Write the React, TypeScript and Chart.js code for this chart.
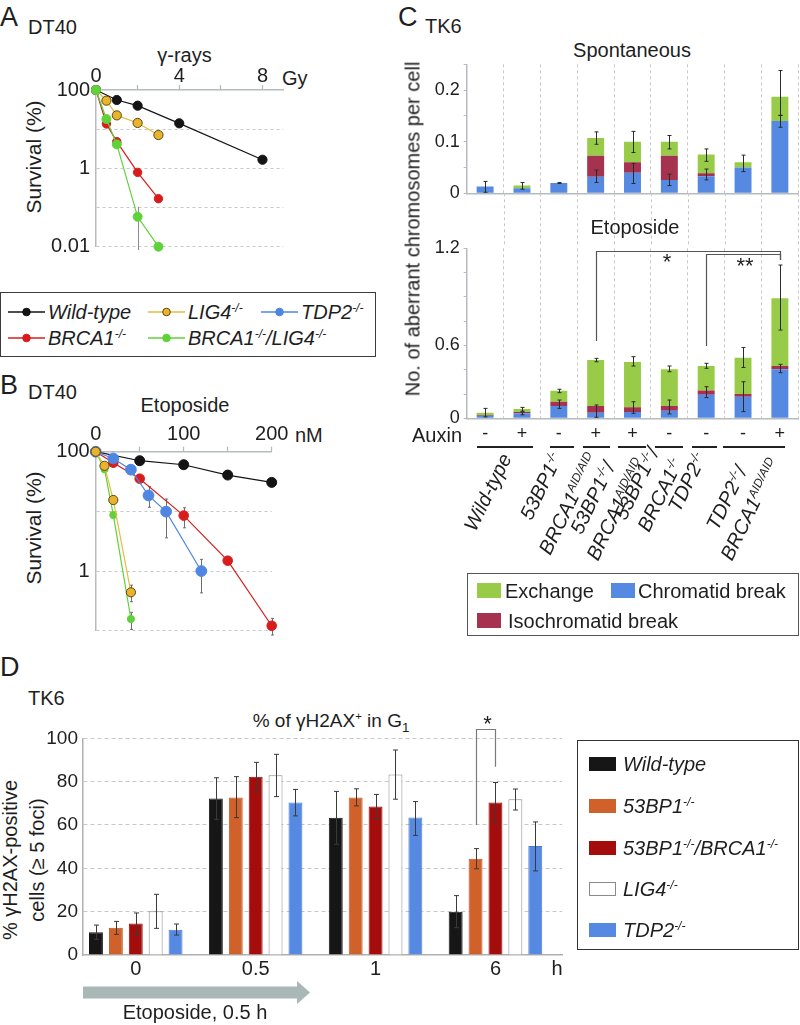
import React, { useEffect, useRef } from 'react';
import { Chart, registerables } from 'chart.js';

Chart.register(...registerables);

const FONT = '"Liberation Sans", Arial, Helvetica, sans-serif';
Chart.defaults.font.family = FONT;

const TXT = '#1e1e1e';
const AXIS = '#b6bcbe';
const GRID = '#c8c8c8';

const A_BLACK = '#141414';
const A_RED = '#d81c1c';
const A_GREEN = '#5fd23a';
const A_YEL = '#e8b42e';
const A_YEL_EDGE = '#5e4710';
const A_YEL_LINE = '#e4bb44';
const A_BLUE = '#4f86e2';
const C_GREEN = '#98cc48';
const C_BLUE = '#5689e2';
const C_MAROON = '#a5324f';

// ================= Panel A : DT40, gamma-rays =================
const aXTicks = [0, 2, 4, 6, 8];
const aXLabels = ['0', '', '4', '', '8'];
const aYTicks = [0.01, 0.1, 1, 10, 100];
const aYLabels = ['0.01', '', '1', '', '100'];
const aWildDose = [0, 1, 2, 4, 8];
const aWildSurv = [100, 55.6, 39.8, 14.1, 1.66];
const aLig4Dose = [0, 0.5, 1, 2, 3];
const aLig4Surv = [100, 53.4, 22.5, 14.4, 7.1];
const aBrcaDose = [0, 0.5, 1, 2, 3];
const aBrcaSurv = [100, 13.6, 4.8, 0.79, 0.168];
const aDblDose = [0, 0.5, 1, 2, 3];
const aDblSurv = [100, 18.2, 4.1, 0.058, 0.01];
const aDblErrLo = [null, null, null, 0.0082, null];
const aDblErrHi = [null, null, null, 0.105, null];

// ================= Panel B : DT40, etoposide =================
const bXTicks = [0, 50, 100, 150, 200];
const bXLabels = ['0', '', '100', '', '200'];
const bYTicks = [0.1, 1, 10, 100];
const bYLabels = ['', '1', '', '100'];
const bWildDose = [0, 50, 100, 150, 200];
const bWildSurv = [100, 70.6, 60.5, 40.6, 30.6];
const bLig4Dose = [0, 10, 20, 40];
const bLig4Surv = [100, 58, 15.5, 0.44];
const bLig4ErrLo = [null, null, null, 0.306];
const bLig4ErrHi = [null, null, null, 0.58];
const bDblDose = [0, 10, 20, 40];
const bDblSurv = [100, 51, 8.7, 0.157];
const bDblErrLo = [null, 45, null, 0.105];
const bDblErrHi = [null, 57, null, 0.203];
const bBrcaDose = [0, 20, 50, 100, 150, 200];
const bBrcaSurv = [100, 65.4, 35.3, 8.5, 1.49, 0.121];
const bBrcaErrLo = [null, null, null, 5.3, 1.3, 0.0845];
const bBrcaErrHi = [null, null, null, 11.5, 1.72, 0.161];
const bTdp2Dose = [0, 20, 40, 60, 80, 120];
const bTdp2Surv = [100, 77, 50, 18.5, 9.9, 1.0];
const bTdp2ErrLo = [null, null, null, 11.7, 3.6, 0.43];
const bTdp2ErrHi = [null, null, null, 25.9, 16.1, 1.57];

// ================= Panel C : TK6 aberrant chromosomes =================
const cCategories = ['WT -', 'WT +', '53BP1', 'BRCA1 AID', '53BP1/BRCA1 AID', '53BP1/BRCA1', 'TDP2', 'TDP2/BRCA1 AID -', 'TDP2/BRCA1 AID +'];
const cAuxin = ['-', '+', '-', '+', '+', '-', '-', '-', '+'];
// Spontaneous
const spChromatid = [0.013, 0.010, 0.020, 0.032, 0.040, 0.026, 0.033, 0.050, 0.140];
const spIso = [0, 0, 0, 0.041, 0.020, 0.047, 0.006, 0, 0];
const spExchange = [0, 0.005, 0, 0.034, 0.040, 0.027, 0.036, 0.010, 0.047];
const spTotLo = [0.002, 0.008, 0.019, 0.095, 0.079, 0.086, 0.062, 0.042, 0.151];
const spTotHi = [0.023, 0.021, 0.021, 0.119, 0.120, 0.112, 0.086, 0.074, 0.238];
const spLowLo = [null, null, null, 0.021, 0.019, 0.015, 0.026, null, 0.128];
const spLowHi = [null, null, null, 0.045, 0.058, 0.037, 0.047, null, 0.151];
const spYTicks = [0, 0.05, 0.1, 0.15, 0.2, 0.25];
const spYLabels = ['0', '', '0.1', '', '0.2', ''];
// Etoposide
const etChromatid = [0.018, 0.035, 0.087, 0.040, 0.045, 0.054, 0.167, 0.153, 0.346];
const etIso = [0.005, 0.010, 0.030, 0.047, 0.033, 0.033, 0.030, 0.019, 0.023];
const etExchange = [0.017, 0.021, 0.078, 0.324, 0.319, 0.259, 0.172, 0.256, 0.478];
const etTotLo = [0.010, 0.050, 0.181, 0.399, 0.369, 0.329, 0.353, 0.359, 0.623];
const etTotHi = [0.070, 0.077, 0.205, 0.423, 0.435, 0.369, 0.388, 0.500, 1.082];
const etLowLo = [null, 0.025, 0.070, 0.007, 0.035, 0.031, 0.146, 0.047, 0.322];
const etLowHi = [null, 0.045, 0.129, 0.094, 0.117, 0.129, 0.223, 0.258, 0.381];
const etYTicks = [0, 0.1714, 0.3429, 0.5143, 0.6857, 0.8571, 1.0286, 1.2];
const etYLabels = ['0', '', '', '0.6', '', '', '', '1.2'];
// significance brackets (category index / value)
const cSigFrom = [3, 6];
const cSigTo = [8, 8];
const cSigTop = [1.183, 1.16];
const cSigFromBase = [0.546, 0.51];
const cSigToBase = [1.117, 1.117];

// ================= Panel D : gammaH2AX =================
const dTimes = ['0', '0.5', '1', '6'];
const dNames = ['Wild-type', '53BP1^{-/-}', '53BP1^{-/-}/BRCA1^{-/-}', 'LIG4^{-/-}', 'TDP2^{-/-}'];
const dWild = [10.5, 72.2, 63.3, 20.0];
const dWildLo = [7.2, 62.6, 51.1, 12.6];
const dWildHi = [13.8, 81.8, 75.5, 27.4];
const d53 = [12.6, 72.7, 72.7, 44.4];
const d53Lo = [9.5, 63.4, 68.8, 39.8];
const d53Hi = [15.5, 82.3, 76.7, 49.1];
const d53Brca = [14.5, 82.3, 68.5, 70.4];
const d53BrcaLo = [9.1, 75.3, 62.7, 61.1];
const d53BrcaHi = [19.4, 88.9, 74.1, 79.6];
const dLig4 = [20.2, 83.0, 83.3, 71.9];
const dLig4Lo = [12.3, 73.1, 71.9, 66.9];
const dLig4Hi = [28.0, 92.6, 94.6, 76.6];
const dTdp2 = [11.7, 70.4, 63.4, 50.3];
const dTdp2Lo = [9.2, 64.2, 55.2, 38.8];
const dTdp2Hi = [14.3, 76.4, 70.8, 61.4];
const dFill = ['#161616', '#d1612a', '#a50d0d', '#ffffff', '#5689e2'];
const dEdge = ['#161616', '#b9541f', '#8e0b0b', '#8a8a8a', '#4c7dd4'];
const dSigGroup = 3;
const dSigFrom = 1;
const dSigTo = 2;
const dSigTop = 104.3;
const dSigFromBase = 60;
const dSigToBase = 86.9;

// ---------------------------------------------------------------
const baseOptions = (pad: any) => ({
  animation: false,
  responsive: false,
  maintainAspectRatio: false,
  devicePixelRatio: 1,
  events: [],
  layout: { padding: pad, autoPadding: false },
  plugins: { legend: { display: false }, tooltip: { enabled: false }, title: { display: false } },
});

const lineSet = (xs: number[], ys: number[], color: string, r: number, fill = color, edge = color, lc = color) => ({
  data: xs.map((x, i) => ({ x, y: ys[i] })),
  borderColor: lc,
  borderWidth: 1.2,
  pointRadius: r,
  pointHoverRadius: r,
  pointBackgroundColor: fill,
  pointBorderColor: edge,
  pointBorderWidth: 1,
  tension: 0,
  fill: false,
  clip: false,
});

const lineErrors = (sets: any[], color: string, cap: number) => ({
  id: 'lineErrors',
  beforeDatasetsDraw(chart: any) {
    const { ctx } = chart;
    const xs = chart.scales.x;
    const ys = chart.scales.y;
    ctx.save();
    ctx.strokeStyle = color;
    ctx.lineWidth = 1;
    sets.forEach((s: any) =>
      s.xs.forEach((xv: number, i: number) => {
        const lo = s.lo[i];
        const hi = s.hi[i];
        if (lo == null || hi == null) return;
        const px = Math.round(xs.getPixelForValue(xv)) + 0.5;
        const y1 = ys.getPixelForValue(lo);
        const y2 = ys.getPixelForValue(hi);
        ctx.beginPath();
        ctx.moveTo(px, y1);
        ctx.lineTo(px, y2);
        if (cap > 0) {
          ctx.moveTo(px - cap, y1);
          ctx.lineTo(px + cap, y1);
          ctx.moveTo(px - cap, y2);
          ctx.lineTo(px + cap, y2);
        }
        ctx.stroke();
      })
    );
    ctx.restore();
  },
});

function survivalConfig(p: any) {
  return {
    type: 'line',
    data: { datasets: p.datasets },
    options: {
      ...baseOptions(p.pad),
      scales: {
        x: {
          type: 'linear',
          position: 'top',
          min: p.x.min,
          max: p.x.max,
          afterFit: (s: any) => { s.height = p.x.height; },
          afterBuildTicks: (s: any) => { s.ticks = p.x.ticks.map((v: number) => ({ value: v })); },
          ticks: { callback: (_v: any, i: number) => p.x.labels[i], font: { size: 20 }, color: TXT, padding: p.x.labelPad, maxRotation: 0, autoSkip: false },
          grid: { drawOnChartArea: false, drawTicks: true, tickLength: 5, tickColor: AXIS, tickWidth: 1.3, color: AXIS },
          border: { color: AXIS, width: 1.5 },
        },
        y: {
          type: 'logarithmic',
          min: p.y.min,
          max: p.y.max,
          afterFit: (s: any) => { s.width = p.y.width; },
          afterBuildTicks: (s: any) => { s.ticks = p.y.ticks.map((v: number) => ({ value: v })); },
          ticks: { callback: (_v: any, i: number) => p.y.labels[i], font: { size: 20 }, color: TXT, padding: 6, autoSkip: false },
          grid: { drawTicks: false, lineWidth: 1, color: (c: any) => (c.tick && c.tick.value >= p.y.max ? 'rgba(0,0,0,0)' : GRID) },
          border: { color: AXIS, width: 1.5, dash: [3, 3] },
        },
      },
    },
    plugins: [lineErrors(p.errs, p.errColor, p.cap)],
  };
}

const makeA = () =>
  survivalConfig({
    datasets: [
      lineSet(aDblDose, aDblSurv, A_GREEN, 4.5),
      lineSet(aBrcaDose, aBrcaSurv, A_RED, 4.2),
      lineSet(aLig4Dose, aLig4Surv, A_YEL, 4.6, A_YEL, A_YEL_EDGE, A_YEL_LINE),
      lineSet(aWildDose, aWildSurv, A_BLACK, 4.6),
    ],
    x: { min: 0, max: 9, ticks: aXTicks, labels: aXLabels, height: 50, labelPad: -3 },
    y: { min: 0.01, max: 100, ticks: aYTicks, labels: aYLabels, width: 96 },
    pad: { left: 0, top: 0, right: 46.7, bottom: 23.3 },
    errs: [{ xs: aDblDose, lo: aDblErrLo, hi: aDblErrHi }],
    errColor: '#8d8d8d',
    cap: 0,
  });

const makeB = () =>
  survivalConfig({
    datasets: [
      lineSet(bLig4Dose, bLig4Surv, A_YEL, 4.6, A_YEL, A_YEL_EDGE, A_YEL_LINE),
      lineSet(bDblDose, bDblSurv, A_GREEN, 3.6),
      lineSet(bTdp2Dose, bTdp2Surv, A_BLUE, 5.4),
      lineSet(bBrcaDose, bBrcaSurv, A_RED, 4.8),
      lineSet(bWildDose, bWildSurv, A_BLACK, 5),
    ],
    x: { min: 0, max: 200, ticks: bXTicks, labels: bXLabels, height: 51.7, labelPad: 0 },
    y: { min: 0.1, max: 100, ticks: bYTicks, labels: bYLabels, width: 95.7 },
    pad: { left: 0, top: 0, right: 58.3, bottom: 19.3 },
    errs: [
      { xs: bLig4Dose, lo: bLig4ErrLo, hi: bLig4ErrHi },
      { xs: bDblDose, lo: bDblErrLo, hi: bDblErrHi },
      { xs: bBrcaDose, lo: bBrcaErrLo, hi: bBrcaErrHi },
      { xs: bTdp2Dose, lo: bTdp2ErrLo, hi: bTdp2ErrHi },
    ],
    errColor: '#6e6e6e',
    cap: 1.5,
  });

const stackErrors = (pairs: any[]) => ({
  id: 'stackErrors',
  afterDatasetsDraw(chart: any) {
    const { ctx } = chart;
    const xs = chart.scales.x;
    const ys = chart.scales.y;
    ctx.save();
    ctx.strokeStyle = '#2b2b2b';
    ctx.lineWidth = 1;
    pairs.forEach((p: any) =>
      p.lo.forEach((lo: any, i: number) => {
        const hi = p.hi[i];
        if (lo == null || hi == null) return;
        const px = Math.round(xs.getPixelForValue(i)) + 0.5;
        const y1 = ys.getPixelForValue(lo);
        const y2 = ys.getPixelForValue(hi);
        ctx.beginPath();
        ctx.moveTo(px, y1);
        ctx.lineTo(px, y2);
        ctx.moveTo(px - 2, y1);
        ctx.lineTo(px + 2, y1);
        ctx.moveTo(px - 2, y2);
        ctx.lineTo(px + 2, y2);
        ctx.stroke();
      })
    );
    ctx.restore();
  },
});

const extendGrid = (toY: number) => ({
  id: 'extendGrid',
  afterDraw(chart: any) {
    const { ctx, chartArea } = chart;
    const xs = chart.scales.x;
    ctx.save();
    ctx.strokeStyle = GRID;
    ctx.lineWidth = 1;
    ctx.setLineDash([3, 3]);
    for (let i = 1; i <= cCategories.length; i++) {
      const px = Math.round(xs.getPixelForValue(i - 0.5)) + 0.5;
      ctx.beginPath();
      ctx.moveTo(px, chartArea.bottom);
      ctx.lineTo(px, toY);
      ctx.stroke();
    }
    ctx.restore();
  },
});

const cBrackets = {
  id: 'cBrackets',
  afterDraw(chart: any) {
    const { ctx } = chart;
    const xs = chart.scales.x;
    const ys = chart.scales.y;
    ctx.save();
    ctx.strokeStyle = '#555';
    ctx.lineWidth = 1.2;
    cSigFrom.forEach((f, k) => {
      const x1 = Math.round(xs.getPixelForValue(f)) + 0.5;
      const x2 = Math.round(xs.getPixelForValue(cSigTo[k])) + 0.5;
      const yt = Math.round(ys.getPixelForValue(cSigTop[k])) + 0.5;
      ctx.beginPath();
      ctx.moveTo(x1, ys.getPixelForValue(cSigFromBase[k]));
      ctx.lineTo(x1, yt);
      ctx.lineTo(x2, yt);
      ctx.lineTo(x2, ys.getPixelForValue(cSigToBase[k]));
      ctx.stroke();
    });
    ctx.restore();
  },
};

function aberrConfig(p: any) {
  return {
    type: 'bar',
    data: {
      labels: cCategories,
      datasets: [
        { label: 'Chromatid break', data: p.chromatid, backgroundColor: C_BLUE },
        { label: 'Isochromatid break', data: p.iso, backgroundColor: C_MAROON },
        { label: 'Exchange', data: p.exch, backgroundColor: C_GREEN },
      ].map((d) => ({ ...d, categoryPercentage: 1, barPercentage: 0.46, borderWidth: 0 })),
    },
    options: {
      ...baseOptions(p.pad),
      scales: {
        x: {
          stacked: true,
          afterFit: (s: any) => { s.height = p.xHeight; },
          ticks: p.xTicks,
          grid: { offset: true, drawTicks: false, color: GRID, lineWidth: 1 },
          border: { color: AXIS, width: 1.5, dash: [3, 3] },
        },
        y: {
          stacked: true,
          min: 0,
          max: p.yMax,
          afterFit: (s: any) => { s.width = 96.7; },
          afterBuildTicks: (s: any) => { s.ticks = p.yTicks.map((v: number) => ({ value: v })); },
          ticks: { callback: (_v: any, i: number) => p.yLabels[i], font: { size: 18 }, color: TXT, padding: 4, autoSkip: false },
          grid: { drawOnChartArea: false, drawTicks: true, tickLength: 3, tickColor: AXIS, color: AXIS },
          border: { color: AXIS, width: 1.5 },
        },
      },
    },
    plugins: [stackErrors([{ lo: p.totLo, hi: p.totHi }, { lo: p.lowLo, hi: p.lowHi }]), ...p.extra],
  };
}

const makeCTop = () =>
  aberrConfig({
    chromatid: spChromatid, iso: spIso, exch: spExchange,
    totLo: spTotLo, totHi: spTotHi, lowLo: spLowLo, lowHi: spLowHi,
    yMax: 0.25, yTicks: spYTicks, yLabels: spYLabels,
    pad: { left: 0, top: 24.3, right: 1.7, bottom: 53.7 },
    xHeight: 0,
    xTicks: { display: false },
    extra: [extendGrid(207)],
  });

const makeCBottom = () =>
  aberrConfig({
    chromatid: etChromatid, iso: etIso, exch: etExchange,
    totLo: etTotLo, totHi: etTotHi, lowLo: etLowLo, lowHi: etLowHi,
    yMax: 1.2, yTicks: etYTicks, yLabels: etYLabels,
    pad: { left: 0, top: 18.3, right: 1.7, bottom: 21.7 },
    xHeight: 30,
    xTicks: { callback: (_v: any, i: number) => cAuxin[i], font: { size: 18 }, color: TXT, padding: 5, maxRotation: 0, autoSkip: false },
    extra: [cBrackets],
  });

const makeD = () => {
  const vals = [dWild, d53, d53Brca, dLig4, dTdp2];
  const los = [dWildLo, d53Lo, d53BrcaLo, dLig4Lo, dTdp2Lo];
  const his = [dWildHi, d53Hi, d53BrcaHi, dLig4Hi, dTdp2Hi];
  const errPlugin = {
    id: 'dErrors',
    afterDatasetsDraw(chart: any) {
      const { ctx } = chart;
      const ys = chart.scales.y;
      ctx.save();
      ctx.strokeStyle = '#3a3a3a';
      ctx.lineWidth = 1;
      vals.forEach((_v, k) => {
        const meta = chart.getDatasetMeta(k);
        meta.data.forEach((el: any, i: number) => {
          const px = Math.round(el.x) + 0.5;
          const y1 = ys.getPixelForValue(los[k][i]);
          const y2 = ys.getPixelForValue(his[k][i]);
          ctx.beginPath();
          ctx.moveTo(px, y1);
          ctx.lineTo(px, y2);
          ctx.moveTo(px - 2.5, y1);
          ctx.lineTo(px + 2.5, y1);
          ctx.moveTo(px - 2.5, y2);
          ctx.lineTo(px + 2.5, y2);
          ctx.stroke();
        });
      });
      // significance bracket
      const xa = Math.round(chart.getDatasetMeta(dSigFrom).data[dSigGroup].x) + 0.5;
      const xb = Math.round(chart.getDatasetMeta(dSigTo).data[dSigGroup].x) + 0.5;
      const yt = Math.round(ys.getPixelForValue(dSigTop)) + 0.5;
      ctx.strokeStyle = '#7a7a7a';
      ctx.lineWidth = 1.2;
      ctx.beginPath();
      ctx.moveTo(xa, ys.getPixelForValue(dSigFromBase));
      ctx.lineTo(xa, yt);
      ctx.lineTo(xb, yt);
      ctx.lineTo(xb, ys.getPixelForValue(dSigToBase));
      ctx.stroke();
      ctx.restore();
    },
  };
  return {
    type: 'bar',
    data: {
      datasets: vals.map((v, k) => ({
        label: dNames[k],
        data: v.map((y, i) => ({ x: i, y })),
        backgroundColor: dFill[k],
        borderColor: dEdge[k],
        borderWidth: 1,
        categoryPercentage: 0.83,
        barPercentage: 0.7,
      })),
    },
    options: {
      ...baseOptions({ left: 0, top: 38.3, right: 18, bottom: 5 }),
      scales: {
        x: {
          type: 'linear',
          min: -0.44,
          max: 3.555,
          offset: false,
          afterFit: (s: any) => { s.height = 30; },
          afterBuildTicks: (s: any) => { s.ticks = dTimes.map((_t, i) => ({ value: i })); },
          ticks: { callback: (_v: any, i: number) => dTimes[i], font: { size: 20 }, color: TXT, padding: -6, maxRotation: 0, autoSkip: false },
          grid: { display: false, offset: false },
          border: { color: '#b0b0b0', width: 1.5 },
        },
        y: {
          min: 0,
          max: 100,
          afterFit: (s: any) => { s.width = 83; },
          ticks: { stepSize: 20, font: { size: 19 }, color: TXT, padding: 5 },
          grid: { drawTicks: false, lineWidth: 1, color: (c: any) => (c.tick && c.tick.value === 0 ? 'rgba(0,0,0,0)' : GRID) },
          border: { color: '#b0b0b0', width: 1.5, dash: [4, 3] },
        },
      },
    },
    plugins: [errPlugin],
  };
};

// ---------------------------------------------------------------
function ChartBox({ left, top, width, height, make }: any) {
  const ref = useRef<HTMLCanvasElement>(null);
  useEffect(() => {
    const chart = new Chart(ref.current as any, make());
    return () => chart.destroy();
  }, []);
  return (
    <div style={{ position: 'absolute', left, top, width, height }}>
      <canvas ref={ref} width={width} height={height} style={{ width, height, display: 'block' }} />
    </div>
  );
}

function Rich({ s }: { s: string }) {
  const parts = s.split(/(\^\{[^}]*\}|_\{[^}]*\})/);
  return (
    <>
      {parts.map((p, i) => {
        if (p.startsWith('^{')) return <span key={i} style={{ fontSize: '0.6em', position: 'relative', top: '-0.6em' }}>{p.slice(2, -1)}</span>;
        if (p.startsWith('_{')) return <span key={i} style={{ fontSize: '0.7em', position: 'relative', top: '0.35em' }}>{p.slice(2, -1)}</span>;
        return <React.Fragment key={i}>{p}</React.Fragment>;
      })}
    </>
  );
}

function Txt({ x, y, size = 20, align = 'center', italic = false, rot = 0, lh = 1.15, children }: any) {
  const tx = align === 'center' ? '-50%' : align === 'right' ? '-100%' : '0%';
  return (
    <div
      style={{
        position: 'absolute', left: x, top: y,
        transform: `translate(${tx}, -50%)${rot ? ` rotate(${rot}deg)` : ''}`,
        fontSize: size, fontStyle: italic ? 'italic' : 'normal', whiteSpace: 'nowrap', lineHeight: lh, textAlign: 'center',
      }}
    >
      {children}
    </div>
  );
}

function RotLabel({ x, y, lines }: any) {
  return (
    <div style={{ position: 'absolute', left: x, top: y, width: 0, height: 0 }}>
      <div
        style={{
          position: 'absolute', right: 0, top: 0,
          transform: 'translateY(-50%) rotate(-64deg)', transformOrigin: '100% 50%',
          textAlign: 'center', fontStyle: 'italic', fontSize: 20, lineHeight: '23px', whiteSpace: 'nowrap',
        }}
      >
        {lines.map((l: string, i: number) => (
          <div key={i}><Rich s={l} /></div>
        ))}
      </div>
    </div>
  );
}

function LineKey({ fill, edge, lc }: any) {
  return (
    <svg width={37} height={12} style={{ display: 'block' }}>
      <line x1={0} y1={6} x2={37} y2={6} stroke={lc} strokeWidth={1.6} />
      <circle cx={18.5} cy={6} r={3.8} fill={fill} stroke={edge} strokeWidth={1} />
    </svg>
  );
}

const abLegend = [
  { label: 'Wild-type', fill: A_BLACK, edge: A_BLACK, lc: A_BLACK, x: 8, y: 311.7 },
  { label: 'LIG4^{-/-}', fill: A_YEL, edge: A_YEL_EDGE, lc: A_YEL_LINE, x: 148, y: 311.7 },
  { label: 'TDP2^{-/-}', fill: A_BLUE, edge: A_BLUE, lc: A_BLUE, x: 261, y: 311.7 },
  { label: 'BRCA1^{-/-}', fill: A_RED, edge: A_RED, lc: A_RED, x: 8, y: 338.3 },
  { label: 'BRCA1^{-/-}/LIG4^{-/-}', fill: A_GREEN, edge: A_GREEN, lc: A_GREEN, x: 148, y: 338.3 },
];

const cLabelLines = [
  ['Wild-type'],
  ['53BP1^{-/-}'],
  ['BRCA1^{AID/AID}'],
  ['53BP1^{-/-}/', 'BRCA1^{AID/AID}'],
  ['53BP1^{-/-}/', 'BRCA1^{-/-}'],
  ['TDP2^{-/-}'],
  ['TDP2^{-/-}/', 'BRCA1^{AID/AID}'],
];
const cLabelAnchorX = [506, 558, 594, 630, 667, 702, 764];
const cLabelAnchorY = 455;
const cUnderLeft = [477, 550, 583, 618, 655, 692, 723];
const cUnderRight = [533, 574, 610, 646, 683, 717, 785];

export default function App() {
  return (
    <div style={{ position: 'absolute', left: 0, top: 0, width: 800, height: 1025, background: '#fff', overflow: 'hidden', fontFamily: FONT, color: TXT }}>
      {/* ===== Panel A ===== */}
      <Txt x={0} y={18} size={27} align="left">A</Txt>
      <Txt x={28} y={27} size={20} align="left">DT40</Txt>
      <Txt x={184.5} y={55} size={20}>γ-rays</Txt>
      <Txt x={282} y={78} size={20} align="left">Gy</Txt>
      <Txt x={34} y={157} size={21} rot={-90}>Survival (%)</Txt>
      <ChartBox left={0} top={40} width={330} height={230} make={makeA} />

      {/* legend A/B */}
      <div style={{ position: 'absolute', left: 0, top: 291.5, width: 376, height: 65, border: '1.3px solid #3c3c3c', boxSizing: 'border-box' }} />
      {abLegend.map((it, i) => (
        <React.Fragment key={i}>
          <div style={{ position: 'absolute', left: it.x, top: it.y - 6 }}>
            <LineKey fill={it.fill} edge={it.edge} lc={it.lc} />
          </div>
          <Txt x={it.x + 40} y={it.y} size={20} align="left" italic><Rich s={it.label} /></Txt>
        </React.Fragment>
      ))}

      {/* ===== Panel B ===== */}
      <Txt x={0} y={386} size={27} align="left">B</Txt>
      <Txt x={28} y={392} size={20} align="left">DT40</Txt>
      <Txt x={185} y={405} size={20}>Etoposide</Txt>
      <Txt x={295} y={435} size={20} align="left">nM</Txt>
      <Txt x={34} y={528} size={21} rot={-90}>Survival (%)</Txt>
      <ChartBox left={0} top={400} width={330} height={250} make={makeB} />

      {/* ===== Panel C ===== */}
      <Txt x={398} y={18} size={27} align="left">C</Txt>
      <Txt x={425} y={26} size={20} align="left">TK6</Txt>
      <Txt x={632} y={50} size={20}>Spontaneous</Txt>
      <ChartBox left={370} top={40} width={430} height={207} make={makeCTop} />
      <Txt x={635} y={227} size={20}>Etoposide</Txt>
      <ChartBox left={370} top={230} width={430} height={240} make={makeCBottom} />
      <Txt x={413} y={229} size={20} rot={-90}>No. of aberrant chromosomes per cell</Txt>
      <Txt x={667} y={262} size={22}>*</Txt>
      <Txt x={745} y={266} size={22}>**</Txt>
      <Txt x={462} y={435} size={20} align="right">Auxin</Txt>
      {cUnderLeft.map((l, i) => (
        <div key={i} style={{ position: 'absolute', left: l, top: 446, width: cUnderRight[i] - l, height: 1.5, background: '#222' }} />
      ))}
      {cLabelLines.map((lines, i) => (
        <RotLabel key={i} x={cLabelAnchorX[i]} y={cLabelAnchorY} lines={lines} />
      ))}
      {/* legend C */}
      <div style={{ position: 'absolute', left: 466.5, top: 572.5, width: 332, height: 63, border: '1.3px solid #555', boxSizing: 'border-box' }} />
      <div style={{ position: 'absolute', left: 477, top: 583, width: 24, height: 15, background: C_GREEN }} />
      <Txt x={505} y={590.5} size={20} align="left">Exchange</Txt>
      <div style={{ position: 'absolute', left: 611, top: 583, width: 24, height: 15, background: C_BLUE }} />
      <Txt x={638} y={590.5} size={20} align="left">Chromatid break</Txt>
      <div style={{ position: 'absolute', left: 477, top: 613, width: 24, height: 15, background: C_MAROON }} />
      <Txt x={508} y={620.5} size={20} align="left">Isochromatid break</Txt>

      {/* ===== Panel D ===== */}
      <Txt x={0} y={668} size={27} align="left">D</Txt>
      <Txt x={28} y={698} size={20} align="left">TK6</Txt>
      <Txt x={331} y={721} size={19}>% of γH2AX<Rich s="^{+}" /> in G<Rich s="_{1}" /></Txt>
      <Txt x={24} y={860} size={20} rot={-90} lh={1.35}>
        <div>% γH2AX-positive</div>
        <div>cells (≥ 5 foci)</div>
      </Txt>
      <ChartBox left={0} top={700} width={580} height={290} make={makeD} />
      <Txt x={487.5} y={724} size={22}>*</Txt>
      <Txt x={557} y={968} size={20}>h</Txt>
      <svg style={{ position: 'absolute', left: 83, top: 981 }} width={228} height={23}>
        <polygon points="0,5.5 214,5.5 214,0 227,11.5 214,23 214,17.5 0,17.5" fill="#aab7b7" />
      </svg>
      <Txt x={195} y={1012} size={20}>Etoposide, 0.5 h</Txt>
      {/* legend D */}
      <div style={{ position: 'absolute', left: 576.5, top: 740, width: 222, height: 210, border: '1.3px solid #333', boxSizing: 'border-box' }} />
      {dNames.map((n, k) => {
        const cy = [764, 806, 847.7, 889, 930][k];
        return (
          <React.Fragment key={k}>
            <div style={{ position: 'absolute', left: 589, top: cy - 7, width: 26.5, height: 14, background: dFill[k], border: k === 3 ? '1px solid #8a8a8a' : 'none', boxSizing: 'border-box' }} />
            <Txt x={623} y={cy} size={20} align="left" italic><Rich s={n} /></Txt>
          </React.Fragment>
        );
      })}
    </div>
  );
}
